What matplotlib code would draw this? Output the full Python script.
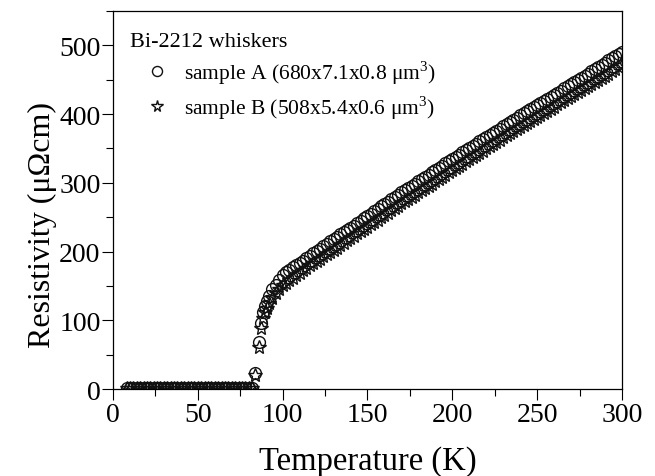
import matplotlib
matplotlib.use('Agg')
import matplotlib.pyplot as plt

plt.rcParams.update({
    'font.family': ['Liberation Serif', 'DejaVu Serif'],
    'mathtext.fontset': 'custom',
    'mathtext.rm': 'Liberation Serif',
    'axes.linewidth': 0.9,
})

# Temperature (K) grid
temp_low = [8, 10, 12, 14, 16, 18, 20, 22, 24, 26, 28, 30, 32, 34, 36, 38, 40, 42, 44, 46,
            48, 50, 52, 54, 56, 58, 60, 62, 64, 66, 68, 70, 72, 74, 76, 78, 80, 82]
temp_trans = [84, 86, 87.5, 88.5, 89.5, 90.5, 92, 94, 96, 98]
temp_norm = [100, 102, 104, 106, 108, 110, 112, 114, 116, 118, 120, 122, 124, 126, 128,
             130, 132, 134, 136, 138, 140, 142, 144, 146, 148, 150, 152, 154, 156, 158,
             160, 162, 164, 166, 168, 170, 172, 174, 176, 178, 180, 182, 184, 186, 188,
             190, 192, 194, 196, 198, 200, 202, 204, 206, 208, 210, 212, 214, 216, 218,
             220, 222, 224, 226, 228, 230, 232, 234, 236, 238, 240, 242, 244, 246, 248,
             250, 252, 254, 256, 258, 260, 262, 264, 266, 268, 270, 272, 274, 276, 278,
             280, 282, 284, 286, 288, 290, 292, 294, 296, 298, 300]

# sample A (circles), resistivity in uOhm cm
rho_a_low = [1.5] * len(temp_low)
rho_a_trans = [24, 68, 96, 112, 121, 128, 136, 145, 152, 159]
rho_a_norm = [166, 170, 173, 177, 180, 184, 187, 191, 194, 198, 201, 204, 208, 211, 215,
              218, 221, 225, 228, 232, 235, 238, 242, 245, 249, 252, 255, 259, 262, 266,
              269, 272, 276, 279, 283, 286, 289, 292, 296, 299, 302, 305, 309, 312, 316,
              319, 322, 325, 329, 332, 335, 338, 341, 345, 348, 351, 354, 357, 361, 364,
              367, 370, 373, 376, 379, 382, 385, 388, 392, 395, 398, 401, 404, 407, 410,
              413, 416, 419, 422, 425, 428, 431, 434, 438, 441, 444, 447, 450, 453, 456,
              459, 462, 465, 469, 472, 475, 478, 481, 484, 487, 490]

# sample B (stars)
rho_b_low = [1.0] * len(temp_low)
rho_b_trans = [20, 62, 89, 103, 112, 118, 125, 133, 140, 146]
rho_b_norm = [152, 155, 159, 162, 166, 169, 173, 176, 180, 183, 186, 190, 193, 196, 200,
              203, 206, 210, 213, 217, 220, 223, 227, 230, 233, 236, 240, 243, 246, 250,
              253, 256, 260, 263, 266, 270, 273, 276, 279, 283, 286, 289, 293, 296, 299,
              303, 306, 309, 312, 316, 319, 322, 325, 328, 332, 335, 338, 341, 344, 347,
              350, 353, 356, 359, 362, 366, 369, 372, 375, 378, 381, 384, 387, 390, 393,
              396, 399, 402, 405, 408, 411, 414, 417, 420, 423, 426, 429, 432, 435, 438,
              441, 444, 447, 450, 453, 456, 459, 462, 465, 468, 472]

temp = temp_low + temp_trans + temp_norm
rho_a = rho_a_low + rho_a_trans + rho_a_norm
rho_b = rho_b_low + rho_b_trans + rho_b_norm

fig = plt.figure(figsize=(6.55, 4.77), dpi=100)
ax = fig.add_axes([0.1725, 0.182, 0.777, 0.793])

ax.plot(temp, rho_a, linestyle='none', marker='o', markersize=8.5,
        markerfacecolor='none', markeredgecolor='#111111', markeredgewidth=1.0,
        label='sample A (680x7.1x0.8 μm$^{3}$)')
ax.plot(temp, rho_b, linestyle='none', marker='*', markersize=10,
        markerfacecolor='none', markeredgecolor='#111111', markeredgewidth=1.0,
        label='sample B (508x5.4x0.6 μm$^{3}$)')

ax.set_xlim(0, 300)
ax.set_ylim(0, 550)
ax.set_xticks(range(0, 301, 50))
ax.set_xticks(range(25, 300, 50), minor=True)
ax.set_yticks(range(0, 501, 100))
ax.set_yticks(range(50, 551, 100), minor=True)
ax.tick_params(which='major', direction='out', length=8, width=0.8, labelsize=20, pad=1)
ax.tick_params(which='minor', direction='out', length=5, width=0.8)

ax.set_xlabel('Temperature (K)', fontsize=23.5, labelpad=13.5)
ax.set_ylabel('Resistivity (μΩcm)', fontsize=23)
ax.yaxis.set_label_coords(-0.11, 0.437)

# legend block in the upper left corner
leg = ax.legend(title='Bi-2212 whiskers', loc='upper left', frameon=False,
                bbox_to_anchor=(0.0165, 0.968), borderaxespad=0,
                fontsize=15.5, title_fontsize=16, alignment='left',
                handletextpad=0.0, labelspacing=0.35,
                handlelength=2.5, markerscale=0.85)

fig.savefig('out.png', dpi=100)
